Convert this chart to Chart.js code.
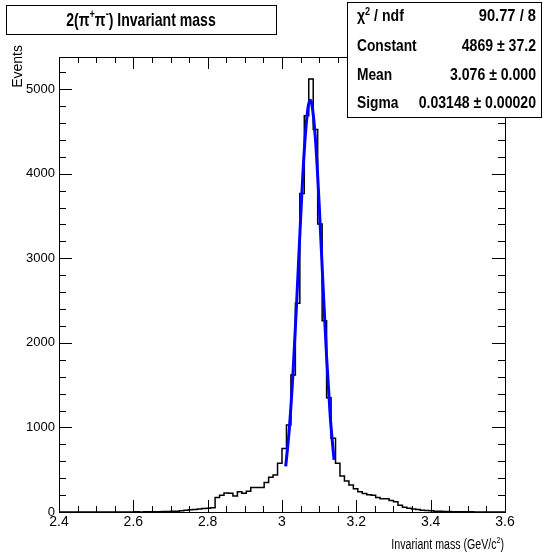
<!DOCTYPE html>
<html>
<head>
<meta charset="utf-8">
<script src="https://cdn.jsdelivr.net/npm/chart.js@4"></script>
<style>
    html, body { margin: 0; padding: 0; background: #fff; }
    #wrap { width: 546px; height: 555px; }
</style>
</head>
<body>
<div id="wrap"><canvas id="massChart" width="546" height="555"></canvas></div>
<script>
// histogram: 100 bins from 2.4 to 3.6 GeV/c^2
var binLow = 2.4;
var binWidth = 0.012;
var counts = [
    0, 0, 0, 0, 0, 0, 0, 0, 0, 0,
    0, 1, 0, 1, 1, 0, 1, 2, 1, 2,
    3, 2, 4, 5, 6, 8, 10, 15, 20, 28,
    30, 35, 40, 45, 50, 172, 197, 225, 222, 189,
    240, 221, 245, 290, 290, 290, 348, 410, 437, 575,
    750, 1028, 1619, 2467, 3767, 4684, 5120, 4523, 3404, 2262,
    1351, 871, 575, 427, 368, 320, 275, 240, 218, 203,
    197, 170, 156, 156, 135, 120, 80, 55, 45, 35,
    30, 22, 18, 14, 10, 8, 6, 5, 4, 3,
    3, 2, 2, 1, 1, 1, 0, 1, 0, 0
];

// gaussian fit curve
var fitMass = [3.01, 3.02, 3.03, 3.04, 3.05, 3.06, 3.07, 3.076, 3.08, 3.09, 3.10, 3.11, 3.12, 3.13, 3.14];
var fitValue = [540, 1001, 1674, 2532, 3462, 4279, 4781, 4869, 4830, 4410, 3641, 2717, 1833, 1118, 616];

var xTickValues = [2.4, 2.6, 2.8, 3.0, 3.2, 3.4, 3.6];
var yTickValues = [0, 1000, 2000, 3000, 4000, 5000];

var statNames = ['Constant', 'Mean', 'Sigma'];
var statValues = ['4869 \u00b1 37.2', '3.076 \u00b1 0.000', '0.03148 \u00b1 0.00020'];
var chiText = '90.77 / 8';

var FONT = "'Liberation Sans', Arial, sans-serif";

document.addEventListener("DOMContentLoaded", function () {
    var histPts = [];
    for (var i = 0; i < counts.length; i++) {
        histPts.push({ x: binLow + i * binWidth, y: counts[i] });
    }
    histPts.push({ x: binLow + counts.length * binWidth, y: counts[counts.length - 1] });

    var fitPts = fitMass.map(function (m, i) { return { x: m, y: fitValue[i] }; });

    // text drawn squeezed horizontally (ROOT's helvetica looks narrow)
    function runsWidth(ctx, runs, size, bold, sx) {
        var w = 0;
        runs.forEach(function (r) {
            var s = r.sup ? size * 0.65 : size;
            ctx.font = (bold ? 'bold ' : '') + s + 'px ' + FONT;
            w += ctx.measureText(r.t).width;
        });
        return w * sx;
    }
    function drawRuns(ctx, runs, x, y, size, bold, sx) {
        ctx.save();
        ctx.translate(x, y);
        ctx.scale(sx, 1);
        ctx.textAlign = 'left';
        var cx = 0;
        runs.forEach(function (r) {
            var s = r.sup ? size * 0.65 : size;
            ctx.font = (bold ? 'bold ' : '') + s + 'px ' + FONT;
            ctx.fillText(r.t, cx, r.sup ? -size * 0.4 : 0);
            cx += ctx.measureText(r.t).width;
        });
        ctx.restore();
    }
    function drawRight(ctx, text, xRight, y, size, bold, sx) {
        var runs = [{ t: text }];
        drawRuns(ctx, runs, xRight - runsWidth(ctx, runs, size, bold, sx), y, size, bold, sx);
    }

    var rootFrame = {
        id: 'rootFrame',
        afterDatasetsDraw: function (chart) {
            var ctx = chart.ctx, a = chart.chartArea;
            var xs = chart.scales.x, ys = chart.scales.y;
            ctx.save();
            ctx.strokeStyle = '#000';
            ctx.lineWidth = 1;
            ctx.strokeRect(a.left + 0.5, a.top + 0.5, a.right - a.left, a.bottom - a.top);
            ctx.beginPath();
            // x ticks, bottom and top
            for (var k = 0; k <= 24; k++) {
                var v = 2.4 + k * 0.05;
                var px = Math.round(xs.getPixelForValue(v)) + 0.5;
                var len = (k % 4 === 0) ? 12 : 6;
                ctx.moveTo(px, a.bottom); ctx.lineTo(px, a.bottom - len);
                ctx.moveTo(px, a.top); ctx.lineTo(px, a.top + len);
            }
            // y ticks, left and right
            for (var j = 0; j <= 26; j++) {
                var py = Math.round(ys.getPixelForValue(j * 200)) + 0.5;
                var ylen = (j % 5 === 0) ? 13 : 7;
                ctx.moveTo(a.left, py); ctx.lineTo(a.left + ylen, py);
                ctx.moveTo(a.right, py); ctx.lineTo(a.right - ylen, py);
            }
            ctx.stroke();
            ctx.restore();
        },
        afterDraw: function (chart) {
            var ctx = chart.ctx;
            ctx.save();
            ctx.fillStyle = '#000';
            ctx.strokeStyle = '#000';
            ctx.lineWidth = 1;
            ctx.textBaseline = 'alphabetic';

            // title box
            ctx.fillStyle = '#fff';
            ctx.fillRect(6, 5, 270, 29);
            ctx.strokeRect(6.5, 5.5, 270, 29);
            ctx.fillStyle = '#000';
            var title = [
                { t: '2(\u03c0' }, { t: '+', sup: true }, { t: '\u03c0' }, { t: '-', sup: true },
                { t: ') Invariant mass' }
            ];
            var tw = runsWidth(ctx, title, 19, true, 0.74);
            drawRuns(ctx, title, 141 - tw / 2, 26, 19, true, 0.74);

            // stats box
            ctx.fillStyle = '#fff';
            ctx.fillRect(347, 2, 194, 115);
            ctx.strokeRect(347.5, 2.5, 194, 115);
            ctx.fillStyle = '#000';
            drawRuns(ctx, [{ t: '\u03c7' }, { t: '2', sup: true }, { t: ' / ndf' }], 357, 21, 16, true, 0.88);
            drawRight(ctx, chiText, 536, 21, 16, true, 0.92);
            statNames.forEach(function (n, i) {
                drawRuns(ctx, [{ t: n }], 357, 51 + i * 28.5, 16, true, 0.86);
                drawRight(ctx, statValues[i], 536, 51 + i * 28.5, 16, true, 0.88);
            });

            // axis titles
            var xt = [{ t: 'Invariant mass (GeV/c' }, { t: '2', sup: true }, { t: ')' }];
            var xw = runsWidth(ctx, xt, 14, false, 0.76);
            drawRuns(ctx, xt, 504 - xw, 549, 14, false, 0.76);

            ctx.translate(22, 45);
            ctx.rotate(-Math.PI / 2);
            ctx.textAlign = 'right';
            ctx.font = '14px ' + FONT;
            ctx.fillText('Events', 0, 0);
            ctx.restore();
        }
    };

    var ctx = document.getElementById('massChart').getContext('2d');
    var chart = new Chart(ctx, {
        type: 'line',
        data: {
            datasets: [{
                label: '2(pi+pi-) Invariant mass',
                data: histPts,
                stepped: 'before',
                borderColor: '#000000',
                borderWidth: 1.5,
                pointRadius: 0,
                fill: false,
                order: 1
            },
            {
                label: 'gaus fit',
                data: fitPts,
                borderColor: '#0000ff',
                borderWidth: 3,
                pointRadius: 0,
                cubicInterpolationMode: 'monotone',
                fill: false,
                order: 0
            }]
        },
        options: {
            responsive: false,
            animation: false,
            events: [],
            layout: { padding: { top: 57, right: 41, left: 0, bottom: 0 } },
            plugins: {
                legend: { display: false },
                tooltip: { enabled: false }
            },
            scales: {
                x: {
                    type: 'linear',
                    min: 2.4,
                    max: 3.6,
                    grid: { display: false, drawTicks: false },
                    border: { display: false },
                    afterBuildTicks: function (s) {
                        s.ticks = xTickValues.map(function (v) { return { value: v }; });
                    },
                    ticks: {
                        autoSkip: false,
                        maxRotation: 0,
                        padding: 2,
                        color: '#000',
                        font: { family: FONT, size: 14 },
                        callback: function (v) { return String(+Number(v).toFixed(1)); }
                    },
                    afterFit: function (s) { s.height = 43; }
                },
                y: {
                    type: 'linear',
                    min: 0,
                    max: 5380,
                    grid: { display: false, drawTicks: false },
                    border: { display: false },
                    afterBuildTicks: function (s) {
                        s.ticks = yTickValues.map(function (v) { return { value: v }; });
                    },
                    ticks: {
                        autoSkip: false,
                        padding: 4,
                        color: '#000',
                        font: { family: FONT, size: 13 },
                        callback: function (v) { return String(Math.round(v)); }
                    },
                    afterFit: function (s) { s.width = 59; }
                }
            }
        },
        plugins: [rootFrame]
    });
});
</script>
</body>
</html>
